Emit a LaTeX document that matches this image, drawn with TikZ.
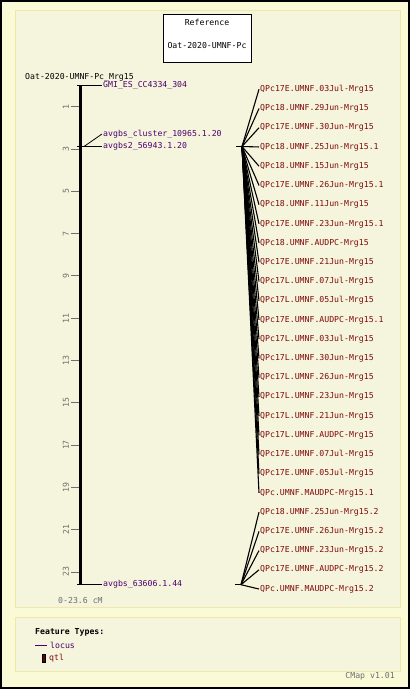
\documentclass[tikz,border=0pt]{standalone}
\usepackage{fontspec}
\newfontfamily\pixfont{DejaVu Sans Mono}
\definecolor{outerbg}{RGB}{250,250,214}
\definecolor{panelbg}{RGB}{245,245,222}
\definecolor{panelbd}{RGB}{238,232,170}
\definecolor{locuscol}{RGB}{75,0,110}
\definecolor{qtlcol}{RGB}{128,10,10}
\definecolor{axgray}{RGB}{110,110,110}
\tikzset{
  txt/.style={font=\pixfont\fontsize{8.2}{9}\selectfont, inner sep=1pt},
  locuslbl/.style={txt, text=locuscol, anchor=west},
  qtllbl/.style={txt, text=qtlcol, anchor=west},
  ticklbl/.style={txt, text=axgray, rotate=90},
  tickline/.style={draw=axgray, line width=0.8pt},
  conn/.style={draw=black, line width=0.8pt},
  qconn/.style={draw=black, line width=1.1pt},
  panel/.style={fill=panelbg, draw=panelbd, line width=1pt},
}
\begin{document}
\begin{tikzpicture}[x=1pt,y=-1pt]
\useasboundingbox (0,0) rectangle (410,689);
% background and frame
\fill[outerbg] (0,0) rectangle (410,689);
\draw[black, line width=2pt] (1,1) rectangle (409,688);
% panels
\draw[panel] (15,10) rectangle (400,607);
\draw[panel] (15,617) rectangle (400,671);
% reference box
\node[draw=black, fill=white, line width=0.8pt, minimum width=88pt, minimum height=48pt] (refbox) at (207,38) {};
\node[txt, text=black] (reftitle) at (207,22) {Reference};
\node[txt, text=black] (refname) at (207,46) {Oat-2020-UMNF-Pc};
% map title
\node[txt, text=black, anchor=west] (maptitle) at (24,77) {Oat-2020-UMNF-Pc\_Mrg15};
% axis
\coordinate (axtop) at (80.5,85.5);
\coordinate (axbot) at (80.5,584.7);
\draw[black, line width=2.6pt] (axtop) -- (axbot);
\draw[black, line width=1pt] (77,85.5) -- (84,85.5);
\draw[black, line width=1pt] (77,584.7) -- (84,584.7);
% ticks
\foreach \v in {1,3,...,23}{
  \pgfmathsetmacro{\yy}{85.5+21.15*\v}
  \draw[tickline] (71,\yy) -- (79,\yy);
  \node[ticklbl] (t\v) at (66,\yy) {\v};
}
\node[txt, text=axgray, anchor=west] (range) at (57,601) {0-23.6 cM};
% loci
\coordinate (l0) at (84,85.5);
\coordinate (l3) at (84,146.5);
\coordinate (l23) at (84,584.7);
\draw[black, line width=1pt] (77,146.5) -- (84,146.5);
\node[locuslbl] (gmi) at (102,85.5) {GMI\_ES\_CC4334\_304};
\node[locuslbl] (avc) at (102,134) {avgbs\_cluster\_10965.1.20};
\node[locuslbl] (av2) at (102,146.5) {avgbs2\_56943.1.20};
\node[locuslbl] (av6) at (102,584.7) {avgbs\_63606.1.44};
\draw[conn] (l0) -- (gmi.west);
\draw[conn] (l3) -- (avc.west);
\draw[conn] (l3) -- (av2.west);
\draw[conn] (l23) -- (av6.west);
% qtl positions
\coordinate (q1) at (242,146.5);
\coordinate (q2) at (241,584.7);
\draw[conn] (236,146.5) -- (q1);
\draw[conn] (235,584.7) -- (q2);
% qtl labels group 1
\foreach \lab [count=\i] in {
  QPc17E.UMNF.03Jul-Mrg15,
  QPc18.UMNF.29Jun-Mrg15,
  QPc17E.UMNF.30Jun-Mrg15,
  QPc18.UMNF.25Jun-Mrg15.1,
  QPc18.UMNF.15Jun-Mrg15,
  QPc17E.UMNF.26Jun-Mrg15.1,
  QPc18.UMNF.11Jun-Mrg15,
  QPc17E.UMNF.23Jun-Mrg15.1,
  QPc18.UMNF.AUDPC-Mrg15,
  QPc17E.UMNF.21Jun-Mrg15,
  QPc17L.UMNF.07Jul-Mrg15,
  QPc17L.UMNF.05Jul-Mrg15,
  QPc17E.UMNF.AUDPC-Mrg15.1,
  QPc17L.UMNF.03Jul-Mrg15,
  QPc17L.UMNF.30Jun-Mrg15,
  QPc17L.UMNF.26Jun-Mrg15,
  QPc17L.UMNF.23Jun-Mrg15,
  QPc17L.UMNF.21Jun-Mrg15,
  QPc17L.UMNF.AUDPC-Mrg15,
  QPc17E.UMNF.07Jul-Mrg15,
  QPc17E.UMNF.05Jul-Mrg15,
  QPc.UMNF.MAUDPC-Mrg15.1}{
  \pgfmathsetmacro{\yy}{89.3+(\i-1)*19.22}
  \node[qtllbl] (qa\i) at (259,\yy) {\lab};
  \draw[qconn] (q1) -- (qa\i.west);
}
% qtl labels group 2
\foreach \lab [count=\i] in {
  QPc18.UMNF.25Jun-Mrg15.2,
  QPc17E.UMNF.26Jun-Mrg15.2,
  QPc17E.UMNF.23Jun-Mrg15.2,
  QPc17E.UMNF.AUDPC-Mrg15.2,
  QPc.UMNF.MAUDPC-Mrg15.2}{
  \pgfmathsetmacro{\yy}{89.3+(\i+21)*19.22}
  \node[qtllbl] (qb\i) at (259,\yy) {\lab};
  \draw[qconn] (q2) -- (qb\i.west);
}
% legend
\node[txt, text=black, anchor=west, font=\pixfont\bfseries\fontsize{8.2}{9}\selectfont] (ftypes) at (34,632) {Feature Types:};
\coordinate (lgl1) at (35,645);
\coordinate (lgl2) at (47,645);
\draw[locuscol, line width=1pt] (lgl1) -- (lgl2);
\node[locuslbl] (lglocus) at (49,645) {locus};
\node[draw=black, fill=qtlcol!70!black, line width=0.6pt, minimum width=3pt, minimum height=8pt, inner sep=0pt] (lgqtl) at (44,658) {};
\node[qtllbl] (lgqtltxt) at (48,658) {qtl};
\node[txt, text=axgray, anchor=east] (cmap) at (396,676) {CMap v1.01};
\end{tikzpicture}
\end{document}
